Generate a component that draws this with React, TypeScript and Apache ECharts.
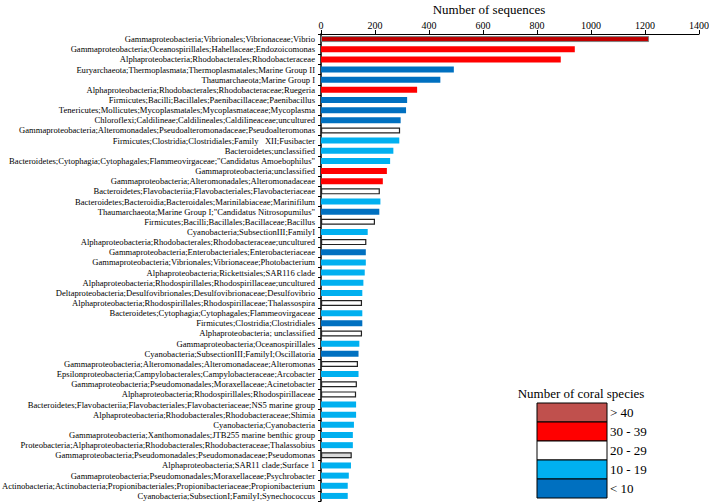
import React, { useEffect, useRef } from "react";
import * as echarts from "echarts";

const categories: string[] = [
  "Gammaproteobacteria;Vibrionales;Vibrionaceae;Vibrio",
  "Gammaproteobacteria;Oceanospirillales;Hahellaceae;Endozoicomonas",
  "Alphaproteobacteria;Rhodobacterales;Rhodobacteraceae",
  "Euryarchaeota;Thermoplasmata;Thermoplasmatales;Marine Group II",
  "Thaumarchaeota;Marine Group I",
  "Alphaproteobacteria;Rhodobacterales;Rhodobacteraceae;Ruegeria",
  "Firmicutes;Bacilli;Bacillales;Paenibacillaceae;Paenibacillus",
  "Tenericutes;Mollicutes;Mycoplasmatales;Mycoplasmataceae;Mycoplasma",
  "Chloroflexi;Caldilineae;Caldilineales;Caldilineaceae;uncultured",
  "Gammaproteobacteria;Alteromonadales;Pseudoalteromonadaceae;Pseudoalteromonas",
  "Firmicutes;Clostridia;Clostridiales;Family   XII;Fusibacter",
  "Bacteroidetes;unclassified",
  "Bacteroidetes;Cytophagia;Cytophagales;Flammeovirgaceae;\"Candidatus Amoebophilus\"",
  "Gammaproteobacteria;unclassified",
  "Gammaproteobacteria;Alteromonadales;Alteromonadaceae",
  "Bacteroidetes;Flavobacteriia;Flavobacteriales;Flavobacteriaceae",
  "Bacteroidetes;Bacteroidia;Bacteroidales;Marinilabiaceae;Marinifilum",
  "Thaumarchaeota;Marine Group I;\"Candidatus Nitrosopumilus\"",
  "Firmicutes;Bacilli;Bacillales;Bacillaceae;Bacillus",
  "Cyanobacteria;SubsectionIII;FamilyI",
  "Alphaproteobacteria;Rhodobacterales;Rhodobacteraceae;uncultured",
  "Gammaproteobacteria;Enterobacteriales;Enterobacteriaceae",
  "Gammaproteobacteria;Vibrionales;Vibrionaceae;Photobacterium",
  "Alphaproteobacteria;Rickettsiales;SAR116 clade",
  "Alphaproteobacteria;Rhodospirillales;Rhodospirillaceae;uncultured",
  "Deltaproteobacteria;Desulfovibrionales;Desulfovibrionaceae;Desulfovibrio",
  "Alphaproteobacteria;Rhodospirillales;Rhodospirillaceae;Thalassospira",
  "Bacteroidetes;Cytophagia;Cytophagales;Flammeovirgaceae",
  "Firmicutes;Clostridia;Clostridiales",
  "Alphaproteobacteria; unclassified",
  "Gammaproteobacteria;Oceanospirillales",
  "Cyanobacteria;SubsectionIII;FamilyI;Oscillatoria",
  "Gammaproteobacteria;Alteromonadales;Alteromonadaceae;Alteromonas",
  "Epsilonproteobacteria;Campylobacterales;Campylobacteraceae;Arcobacter",
  "Gammaproteobacteria;Pseudomonadales;Moraxellaceae;Acinetobacter",
  "Alphaproteobacteria;Rhodospirillales;Rhodospirillaceae",
  "Bacteroidetes;Flavobacteriia;Flavobacteriales;Flavobacteriaceae;NS5 marine group",
  "Alphaproteobacteria;Rhodobacterales;Rhodobacteraceae;Shimia",
  "Cyanobacteria;Cyanobacteria",
  "Gammaproteobacteria;Xanthomonadales;JTB255 marine benthic group",
  "Proteobacteria;Alphaproteobacteria;Rhodobacterales;Rhodobacteraceae;Thalassobius",
  "Gammaproteobacteria;Pseudomonadales;Pseudomonadaceae;Pseudomonas",
  "Alphaproteobacteria;SAR11 clade;Surface 1",
  "Gammaproteobacteria;Pseudomonadales;Moraxellaceae;Psychrobacter",
  "Actinobacteria;Actinobacteria;Propionibacteriales;Propionibacteriaceae;Propionibacterium",
  "Cyanobacteria;SubsectionI;FamilyI;Synechococcus",
];

const sequenceCounts: number[] = [
  1215, 940, 888, 492, 442, 356, 319, 315, 295, 293, 290, 268, 256, 244, 229,
  218, 220, 216, 200, 173, 168, 166, 166, 162, 157, 153, 152, 153, 153, 152,
  142, 139, 137, 139, 133, 130, 130, 130, 122, 118, 118, 114, 111, 103, 99, 99,
];

// 0: > 40, 1: 30 - 39, 2: 20 - 29, 3: 10 - 19, 4: < 10
const speciesClass: number[] = [
  0, 1, 1, 4, 4, 1, 4, 4, 4, 2, 3, 3, 3, 1, 1,
  2, 3, 4, 2, 3, 2, 4, 3, 3, 3, 3, 2, 3, 4, 2,
  3, 4, 2, 3, 2, 2, 3, 3, 3, 3, 3, 2, 3, 3, 3, 3,
];

const legendLabels: string[] = ["> 40", "30 - 39", "20 - 29", "10 - 19", "< 10"];
const legendTitle = "Number of coral species";
const axisTitle = "Number of sequences";

const barColors = ["#c00000", "#ff0000", "#ffffff", "#00b0f0", "#0070c0"];
const legendColors = ["#c0504d", "#ff0000", "#ffffff", "#00b0f0", "#0070c0"];

const FONT = "'Liberation Serif', 'Times New Roman', serif";

export default function App() {
  const ref = useRef<HTMLDivElement>(null);
  useEffect(() => {
    document.body.style.margin = "0";
    if (!ref.current) return;
    const chart = echarts.init(ref.current, undefined, { renderer: "svg" });

    const data = sequenceCounts.map((v, i) => {
      const c = speciesClass[i];
      return {
        value: v,
        itemStyle: {
          color: c === 2 && i === 41 ? "#d9d9d9" : barColors[c],
          borderColor: c === 2 ? "#222222" : c === 0 ? "#808080" : barColors[c],
          borderWidth: c === 2 ? 1.2 : c === 0 ? 1 : 0,
        },
      };
    });

    const lx = 537;
    const ly = 403;
    const lw = 70;
    const lh = 19;
    const legendEls: any[] = [
      {
        type: "text",
        x: 581,
        y: 393,
        style: {
          text: legendTitle,
          font: `13px ${FONT}`,
          fill: "#000",
          textAlign: "center",
          textVerticalAlign: "middle",
        },
      },
    ];
    legendLabels.forEach((lab, i) => {
      legendEls.push({
        type: "rect",
        shape: { x: lx, y: ly + i * lh, width: lw, height: lh },
        style: { fill: legendColors[i], stroke: "#000", lineWidth: 1 },
      });
      legendEls.push({
        type: "text",
        x: lx + lw + 3,
        y: ly + i * lh + lh / 2,
        style: {
          text: lab,
          font: `13px ${FONT}`,
          fill: "#000",
          textVerticalAlign: "middle",
        },
      });
    });

    chart.setOption({
      animation: false,
      backgroundColor: "#ffffff",
      grid: {
        left: 321,
        right: 10,
        top: 34,
        bottom: 1,
        containLabel: false,
        outerBoundsMode: "none",
      },
      xAxis: {
        type: "value",
        position: "top",
        min: 0,
        max: 1400,
        interval: 200,
        axisLine: { show: true, lineStyle: { color: "#000", width: 1 } },
        axisTick: { show: true, inside: false, length: 4, lineStyle: { color: "#000" } },
        axisLabel: {
          fontFamily: FONT,
          fontSize: 10,
          color: "#000",
          margin: 4,
          formatter: (v: number) => String(v),
        },
        splitLine: { show: false },
      },
      yAxis: {
        type: "category",
        data: categories,
        inverse: true,
        axisLine: { show: true, lineStyle: { color: "#000", width: 1.5 } },
        axisTick: { show: true, inside: false, length: 3, lineStyle: { color: "#000" } },
        axisLabel: {
          fontFamily: FONT,
          fontSize: 8.6,
          color: "#000",
          margin: 6,
          interval: 0,
        },
      },
      series: [
        {
          type: "bar",
          data,
          barWidth: 6,
        },
      ],
      graphic: [
        {
          type: "text",
          x: 489,
          y: 9,
          style: {
            text: axisTitle,
            font: `13px ${FONT}`,
            fill: "#000",
            textAlign: "center",
            textVerticalAlign: "middle",
          },
        },
        ...legendEls,
      ],
    });
    return () => chart.dispose();
  }, []);
  return <div ref={ref} style={{ width: 709, height: 502 }} />;
}
